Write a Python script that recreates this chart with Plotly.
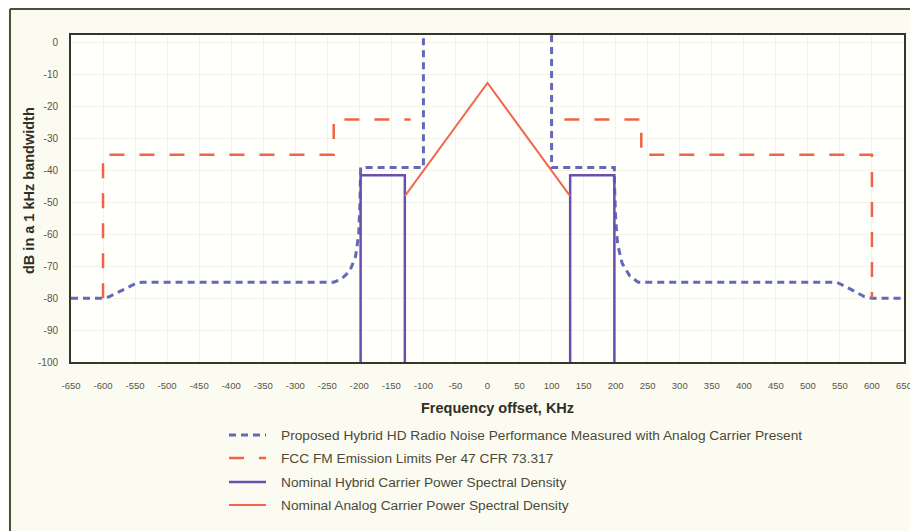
import plotly.graph_objects as go

# ---- data (kHz offset, dB in 1 kHz) ----
noise_x = [-650, -600, -590, -570, -550, -540, -240, -228, -215, -206, -201, -199, -198, -198, -100, -100,
           None,
           100, 100, 198, 198, 200, 203, 210, 222, 235, 545, 565, 588, 600, 650]
noise_y = [-80, -80, -79.5, -77.5, -75.5, -75, -75, -74, -71.5, -67, -60, -50, -43, -39, -39, 10,
           None,
           10, -39, -39, -43, -55, -63, -69, -73, -75, -75, -77, -79.5, -80, -80]

fcc_x = [-600, -600, -240, -240, -120, None, 120, 240, 240, 600, 600]
fcc_y = [-80, -35, -35, -24, -24, None, -24, -24, -35, -35, -80]

hybrid_x = [-198, -198, -129, -129, None, 129, 129, 198, 198]
hybrid_y = [-100, -41.5, -41.5, -100, None, -100, -41.5, -41.5, -100]

analog_x = [-129, 0, 129]
analog_y = [-48, -12.5, -48]

x_ticks = list(range(-650, 651, 50))
x_ticklabels = [str(v) for v in x_ticks]
y_ticks = list(range(0, -101, -10))
y_ticklabels = [str(v) for v in y_ticks]

names = [
    "Proposed Hybrid HD Radio Noise Performance Measured with Analog Carrier Present",
    "FCC FM Emission Limits Per 47 CFR 73.317",
    "Nominal Hybrid Carrier Power Spectral Density",
    "Nominal Analog Carrier Power Spectral Density",
]

NOISE_C = "#6468b8"
FCC_C = "#ef6445"
HYB_C = "#6a4fae"
ANA_C = "#f0684e"

styles = [
    dict(color=NOISE_C, width=3, dash="7px,5px"),
    dict(color=FCC_C, width=2.5, dash="15px,15px"),
    dict(color=HYB_C, width=2.5),
    dict(color=ANA_C, width=2),
]

fig = go.Figure()
for xs, ys, nm, st in zip([noise_x, fcc_x, hybrid_x, analog_x],
                          [noise_y, fcc_y, hybrid_y, analog_y], names, styles):
    fig.add_trace(go.Scatter(x=xs, y=ys, mode="lines", name=nm, line=st,
                             connectgaps=False, showlegend=False))

# page body has an 8px margin: work in screen pixels, shift into figure pixels
OFF = 8
FW, FH = 918 - OFF, 531 - OFF
L, R, T, B = 71 - OFF, 904 - OFF, 35 - OFF, 362 - OFF
PW, PH = R - L, B - T


def px(xs):
    return (xs - OFF - L) / PW


def py(ys):
    return (B - (ys - OFF)) / PH


TXT = "#4a4a38"
fig.update_layout(
    width=FW, height=FH,
    margin=dict(l=L, r=FW - R, t=T, b=FH - B),
    paper_bgcolor="#fcfbf2",
    plot_bgcolor="#fffffb",
    font=dict(family="Liberation Sans, Arial, sans-serif", color=TXT, size=12),
    showlegend=False,
    xaxis=dict(range=[-650, 650], tickvals=x_ticks, ticktext=x_ticklabels,
               tickfont=dict(size=9.5, color="#555545"), ticks="",
               showline=True, linecolor="#35352a", linewidth=2, mirror=True,
               showgrid=True, gridcolor="#f3f3ea", gridwidth=1, zeroline=False,
               ticklabelstandoff=14, automargin=False),
    yaxis=dict(range=[-100, 2.5], tickvals=y_ticks, ticktext=y_ticklabels,
               tickfont=dict(size=10, color="#555545"), ticks="",
               showline=True, linecolor="#35352a", linewidth=2, mirror=True,
               showgrid=True, gridcolor="#f3f3ea", gridwidth=1, zeroline=False,
               ticklabelstandoff=9, automargin=False),
)

fig.add_annotation(text="<b>Frequency offset, KHz</b>", xref="paper", yref="paper",
                   x=px(498), y=py(408), xanchor="center", yanchor="middle",
                   showarrow=False, font=dict(size=14.5, color="#2e2e24"))
fig.add_annotation(text="<b>dB in a 1 kHz bandwidth</b>", xref="paper", yref="paper",
                   x=px(29), y=py(191), xanchor="center", yanchor="middle",
                   textangle=-90, showarrow=False, font=dict(size=14.5, color="#2e2e24"))

# manual legend
leg_rows = [435, 458, 482, 505]
for yrow, nm, st in zip(leg_rows, names, styles):
    fig.add_shape(type="line", xref="paper", yref="paper",
                  x0=px(229), x1=px(266), y0=py(yrow), y1=py(yrow), line=st)
    fig.add_annotation(text=nm, xref="paper", yref="paper", x=px(279), y=py(yrow),
                       xanchor="left", yanchor="middle", showarrow=False,
                       font=dict(size=13.7, color=TXT))

# outer frame (left and top border of the page box)
fig.add_shape(type="line", xref="paper", yref="paper",
              x0=px(10), x1=px(10), y0=py(9), y1=py(531),
              line=dict(color="#50503a", width=2))
fig.add_shape(type="line", xref="paper", yref="paper",
              x0=px(10), x1=px(918), y0=py(9), y1=py(9),
              line=dict(color="#50503a", width=2))

fig.write_html("out.html")
